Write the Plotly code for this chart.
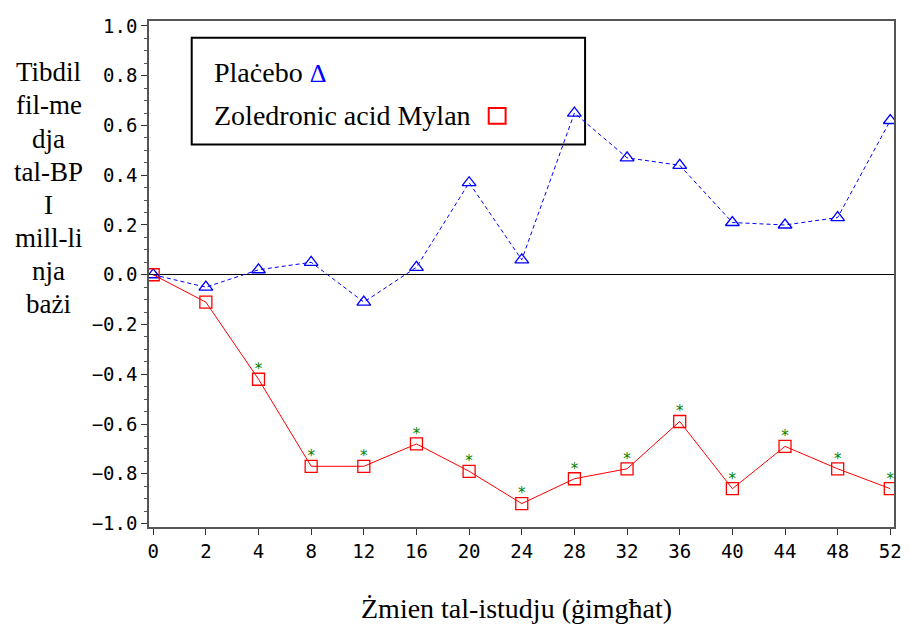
import plotly.graph_objects as go

weeks = ["0", "2", "4", "8", "12", "16", "20", "24", "28", "32", "36", "40", "44", "48", "52"]
placebo = [0.0, -0.05, 0.02, 0.05, -0.11, 0.03, 0.37, 0.06, 0.65, 0.47, 0.44, 0.21, 0.20, 0.23, 0.62]
zoledronic = [0.0, -0.11, -0.42, -0.77, -0.77, -0.68, -0.79, -0.92, -0.82, -0.78, -0.59, -0.86, -0.69, -0.78, -0.86]
significant = ["", "", "*", "*", "*", "*", "*", "*", "*", "*", "*", "*", "*", "*", "*"]
y_ticks = [-1.0, -0.8, -0.6, -0.4, -0.2, 0.0, 0.2, 0.4, 0.6, 0.8, 1.0]
y_title_lines = ["Tibdil", "fil-me", "dja", "tal-BP", "I", "mill-li", "nja", "bażi"]
x_title = "Żmien tal-istudju (ġimgħat)"
legend_placebo = "Plaċebo"
legend_zol = "Zoledronic acid Mylan"

# page body has an 8px margin; build the figure so it lands on the target pixels
OFF = 8
W, H = 909 - OFF, 626 - OFF
L, R, T, B = 149 - OFF, 10, 15 - OFF, 99
PW, PH = W - L - R, H - T - B

def px(xp):
    return (xp - OFF - L) / PW

def py(yp):
    return (H - B - (yp - OFF)) / PH

SERIF = "Liberation Serif, Times New Roman, serif"
MONO = "DejaVu Sans Mono, monospace"

Y_RANGE = [-1.014, 1.02]
units_per_px = (Y_RANGE[1] - Y_RANGE[0]) / PH
star_lift = 9  # pixels above the square centre
Y2_RANGE = [Y_RANGE[0] - star_lift * units_per_px, Y_RANGE[1] - star_lift * units_per_px]

fig = go.Figure()

fig.add_trace(go.Scatter(
    x=weeks, y=placebo, mode="lines+markers", name=legend_placebo,
    line=dict(color="#0000ff", width=1, dash="4px,3px"),
    marker=dict(symbol="triangle-up-open", size=12, color="#0000ff",
                line=dict(color="#0000ff", width=1.3)),
    showlegend=False,
))
fig.add_trace(go.Scatter(
    x=weeks, y=zoledronic, mode="lines+markers", name=legend_zol,
    line=dict(color="#ff0000", width=1),
    marker=dict(symbol="square-open", size=12, color="#ff0000",
                line=dict(color="#ff0000", width=1.3)),
    showlegend=False,
))
fig.add_trace(go.Scatter(
    x=weeks, y=zoledronic, mode="text", yaxis="y2",
    text=significant, textposition="middle center",
    textfont=dict(color="#008000", size=15, family="DejaVu Sans"),
    showlegend=False, hoverinfo="skip",
))

fig.update_layout(
    width=W, height=H,
    margin=dict(l=L, r=R, t=T, b=B, pad=0),
    paper_bgcolor="white", plot_bgcolor="white",
    showlegend=False,
    xaxis=dict(
        type="category", range=[-0.08, 14.07],
        showgrid=False, zeroline=False,
        showline=True, linecolor="#555555", linewidth=1.5, mirror=True,
        ticks="outside", ticklen=6, tickcolor="#333333", tickwidth=1,
        tickfont=dict(family=MONO, size=19, color="black"),
    ),
    yaxis=dict(
        range=Y_RANGE,
        tickvals=y_ticks, tickformat=".1f",
        showgrid=False,
        zeroline=True, zerolinecolor="black", zerolinewidth=1,
        showline=True, linecolor="#555555", linewidth=1.5, mirror=True,
        ticks="outside", ticklen=6, tickcolor="#333333", tickwidth=1,
        minor=dict(dtick=0.05, ticks="outside", ticklen=3, tickcolor="#555555"),
        tickfont=dict(family=MONO, size=19, color="black"),
    ),
    yaxis2=dict(
        range=Y2_RANGE, overlaying="y", visible=False, showgrid=False, zeroline=False,
    ),
)

# y-axis title, one line per annotation
y0 = 67
pitch = 33.5
for i, line in enumerate(y_title_lines):
    fig.add_annotation(
        text=line, xref="paper", yref="paper",
        x=px(48), y=py(y0 + i * pitch), xanchor="center", yanchor="middle",
        showarrow=False, font=dict(family=SERIF, size=27, color="black"),
    )

# x-axis title
fig.add_annotation(
    text=x_title, xref="paper", yref="paper",
    x=px(519), y=py(609), xanchor="center", yanchor="middle",
    showarrow=False, font=dict(family=SERIF, size=28, color="black"),
)

# legend box (unfilled, so the curves show through)
fig.add_shape(type="rect", xref="paper", yref="paper",
              x0=px(192), x1=px(588), y0=py(140), y1=py(32),
              line=dict(color="black", width=2), layer="below")
fig.add_annotation(
    text=legend_placebo + " <span style='color:#0000ff;font-size:26px'>Δ</span>",
    xref="paper", yref="paper", x=px(212), y=py(67),
    xanchor="left", yanchor="middle", showarrow=False,
    font=dict(family=SERIF, size=28, color="black"),
)
fig.add_annotation(
    text=legend_zol,
    xref="paper", yref="paper", x=px(212), y=py(111),
    xanchor="left", yanchor="middle", showarrow=False,
    font=dict(family=SERIF, size=28, color="black"),
)
fig.add_shape(type="rect", xref="paper", yref="paper",
              x0=px(491), x1=px(508), y0=py(119), y1=py(103),
              line=dict(color="#ff0000", width=2), layer="above")

fig.write_html("out.html")
